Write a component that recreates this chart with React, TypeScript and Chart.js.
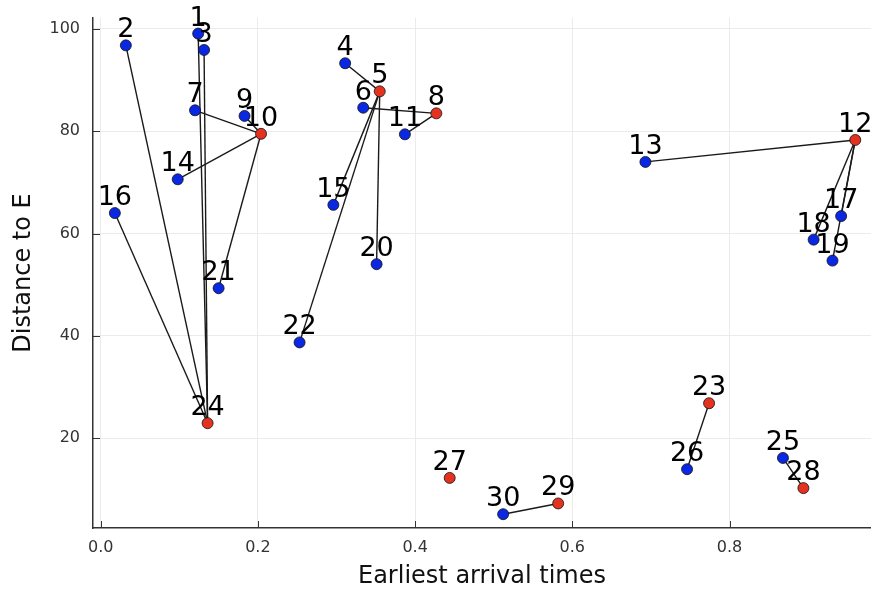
import React, { useEffect, useRef } from "react";
import { Chart, registerables } from "chart.js";

Chart.register(...registerables);

// ---- data ----
const nodeIds = [
  1, 2, 3, 4, 5, 6, 7, 8, 9, 10,
  11, 12, 13, 14, 15, 16, 17, 18, 19, 20,
  21, 22, 23, 24, 25, 26, 27, 28, 29, 30,
];
const arrivalTimes = [
  0.124, 0.032, 0.1315, 0.311, 0.355, 0.334, 0.12, 0.427, 0.183, 0.204,
  0.387, 0.96, 0.693, 0.098, 0.296, 0.018, 0.942, 0.907, 0.931, 0.351,
  0.15, 0.253, 0.774, 0.136, 0.868, 0.746, 0.444, 0.894, 0.582, 0.512,
];
const distances = [
  99.1, 96.8, 95.9, 93.3, 87.8, 84.6, 84.1, 83.5, 83.0, 79.5,
  79.4, 78.3, 74.0, 70.6, 65.6, 64.0, 63.4, 58.8, 54.7, 54.0,
  49.3, 38.7, 26.8, 22.9, 16.1, 13.9, 12.2, 10.2, 7.2, 5.1,
];
const redNodes = [5, 8, 10, 12, 23, 24, 27, 28, 29];
const edges: [number, number][] = [
  [2, 24], [1, 24], [3, 24], [16, 24],
  [7, 10], [9, 10], [14, 10], [10, 21],
  [4, 5], [5, 15], [5, 22], [5, 20],
  [6, 8], [11, 8],
  [12, 13], [12, 17], [12, 18], [12, 19],
  [23, 26], [25, 28], [29, 30],
];
const xTicks = [0, 0.2, 0.4, 0.6, 0.8];
const yTicks = [20, 40, 60, 80, 100];

const FONT = '"DejaVu Sans", sans-serif';

const overlayPlugin = {
  id: "overlay",
  afterDatasetsDraw(chart: any) {
    const { ctx, chartArea, scales } = chart;
    const xs = scales.x;
    const ys = scales.y;
    ctx.save();
    ctx.strokeStyle = "#333";
    ctx.lineWidth = 1;
    ctx.beginPath();
    xTicks.forEach((v) => {
      const px = Math.round(xs.getPixelForValue(v)) + 0.5;
      ctx.moveTo(px, chartArea.bottom);
      ctx.lineTo(px, chartArea.bottom - 7);
    });
    yTicks.forEach((v) => {
      const py = Math.round(ys.getPixelForValue(v)) + 0.5;
      ctx.moveTo(chartArea.left, py);
      ctx.lineTo(chartArea.left + 7, py);
    });
    ctx.stroke();

    ctx.font = `27px ${FONT}`;
    ctx.fillStyle = "#000";
    ctx.textAlign = "center";
    ctx.textBaseline = "alphabetic";
    nodeIds.forEach((id, i) => {
      const px = xs.getPixelForValue(arrivalTimes[i]);
      const py = ys.getPixelForValue(distances[i]);
      ctx.fillText(String(id), px, py - 8);
    });
    ctx.restore();
  },
};

export default function App() {
  const ref = useRef<HTMLCanvasElement | null>(null);

  useEffect(() => {
    const canvas = ref.current;
    if (!canvas) return;

    const idx = (n: number) => nodeIds.indexOf(n);

    const edgeSets = edges.map(([a, b]) => ({
      type: "scatter" as const,
      data: [
        { x: arrivalTimes[idx(a)], y: distances[idx(a)] },
        { x: arrivalTimes[idx(b)], y: distances[idx(b)] },
      ],
      showLine: true,
      borderColor: "#1a1a1a",
      borderWidth: 1.4,
      pointRadius: 0,
      order: 2,
    }));

    const pointSet = {
      type: "scatter" as const,
      data: nodeIds.map((_, i) => ({ x: arrivalTimes[i], y: distances[i] })),
      pointRadius: 5.5,
      pointBackgroundColor: nodeIds.map((n) =>
        redNodes.includes(n) ? "#e3321e" : "#0a28e2"
      ),
      pointBorderColor: "#111",
      pointBorderWidth: 0.8,
      showLine: false,
      order: 1,
    };

    const chart = new Chart(canvas, {
      type: "scatter",
      data: { datasets: [...edgeSets, pointSet] as any },
      options: {
        animation: false,
        responsive: false,
        events: [],
        layout: {
          autoPadding: false,
          padding: { top: 18, left: 0, right: 0, bottom: 0 },
        },
        plugins: {
          legend: { display: false },
          tooltip: { enabled: false },
        },
        scales: {
          x: {
            type: "linear",
            min: -0.0098,
            max: 0.98,
            afterBuildTicks: (s: any) => {
              s.ticks = xTicks.map((v) => ({ value: v }));
            },
            afterFit: (s: any) => {
              s.height = 62;
              s.paddingLeft = 0;
              s.paddingRight = 0;
            },
            ticks: {
              font: { family: FONT, size: 16 },
              color: "#333",
              padding: 10,
              maxRotation: 0,
              callback: (v: any) => Number(v).toFixed(1),
            },
            grid: { color: "#ebebeb", lineWidth: 1, drawTicks: false },
            border: { display: true, color: "#333", width: 1.5 },
            title: {
              display: true,
              text: "Earliest arrival times",
              font: { family: FONT, size: 24, lineHeight: 1 },
              color: "#111",
              padding: { top: 0, bottom: 1 },
            },
          },
          y: {
            type: "linear",
            min: 2.4,
            max: 102.15,
            afterBuildTicks: (s: any) => {
              s.ticks = yTicks.map((v) => ({ value: v }));
            },
            afterFit: (s: any) => {
              s.width = 93;
              s.paddingTop = 0;
              s.paddingBottom = 0;
            },
            ticks: {
              font: { family: FONT, size: 16 },
              color: "#333",
              padding: 13,
              callback: (v: any) => String(v),
            },
            grid: { color: "#ebebeb", lineWidth: 1, drawTicks: false },
            border: { display: true, color: "#333", width: 1.5 },
            title: {
              display: true,
              text: "Distance to E",
              font: { family: FONT, size: 24, lineHeight: 1 },
              color: "#111",
              padding: { top: 12, bottom: 0 },
            },
          },
        },
      },
      plugins: [overlayPlugin],
    });

    return () => chart.destroy();
  }, []);

  return (
    <div
      style={{
        position: "fixed",
        left: 0,
        top: 0,
        width: 871,
        height: 590,
        background: "#fff",
      }}
    >
      <canvas ref={ref} width={871} height={590} />
    </div>
  );
}
